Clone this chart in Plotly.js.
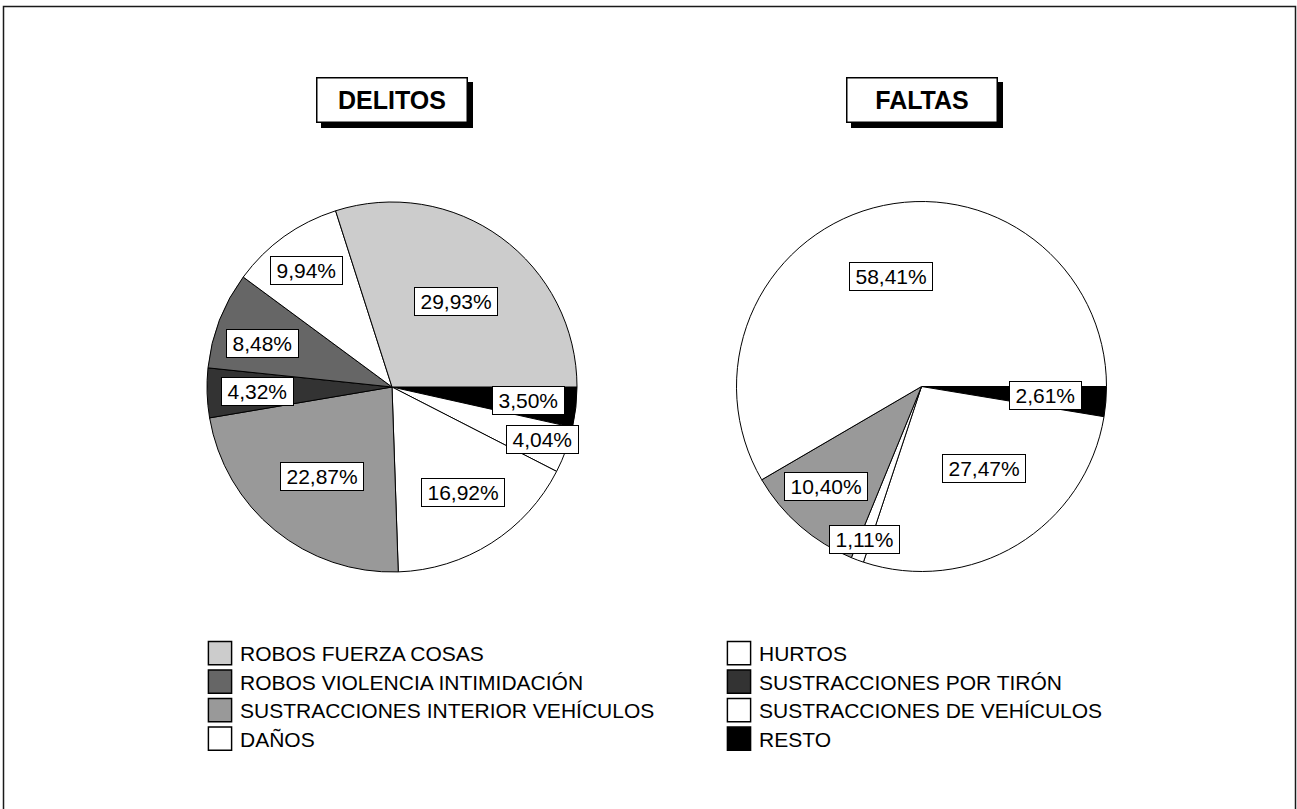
<!DOCTYPE html>
<html><head><meta charset="utf-8">
<script src="https://cdn.plot.ly/plotly-3.0.1.min.js"></script>
<style>html,body{margin:0;padding:0;background:#fff}</style>
</head><body><div id="chart" style="width:1297px;height:809px"></div>
<script>
// ---- data (slices listed clockwise starting at 3 o'clock) ----
const chartTitles = ['DELITOS', 'FALTAS'];
const delitosLabels = ['RESTO', 'SUSTRACCIONES DE VEHÍCULOS', 'HURTOS', 'SUSTRACCIONES INTERIOR VEHÍCULOS',
  'SUSTRACCIONES POR TIRÓN', 'ROBOS VIOLENCIA INTIMIDACIÓN', 'DAÑOS', 'ROBOS FUERZA COSAS'];
const delitosValues = [3.50, 4.04, 16.92, 22.87, 4.32, 8.48, 9.94, 29.93];
const faltasLabels = ['RESTO', 'DAÑOS', 'SUSTRACCIONES DE VEHÍCULOS', 'SUSTRACCIONES INTERIOR VEHÍCULOS', 'HURTOS'];
const faltasValues = [2.61, 27.47, 1.11, 10.40, 58.41];
const legendLeft = ['ROBOS FUERZA COSAS', 'ROBOS VIOLENCIA INTIMIDACIÓN', 'SUSTRACCIONES INTERIOR VEHÍCULOS', 'DAÑOS'];
const legendRight = ['HURTOS', 'SUSTRACCIONES POR TIRÓN', 'SUSTRACCIONES DE VEHÍCULOS', 'RESTO'];

// ---- style ----
const categoryColors = {
  'ROBOS FUERZA COSAS': '#cccccc',
  'ROBOS VIOLENCIA INTIMIDACIÓN': '#666666',
  'SUSTRACCIONES INTERIOR VEHÍCULOS': '#999999',
  'DAÑOS': '#ffffff',
  'HURTOS': '#ffffff',
  'SUSTRACCIONES POR TIRÓN': '#333333',
  'SUSTRACCIONES DE VEHÍCULOS': '#ffffff',
  'RESTO': '#000000'
};
const FONT = 'Liberation Sans, Arial, sans-serif';
const W = 1297, H = 809;
const pieCenters = [[392, 387], [921.5, 386.5]];
const pieR = 185;
const legendRowGap = 28.5;
// label placement: fraction of radius and angle tweak (deg, counterclockwise)
const delitosLabelRadius = [0.744, 0.863, 0.686, 0.615, 0.73, 0.737, 0.78, 0.576];
const delitosLabelTweak = [0.5, 0.5, 1.4, 1.5, 0, 2.4, 0.6, -0.5];
const faltasLabelRadius = [0.67, 0.558, 0.88, 0.746, 0.618];
const faltasLabelTweak = [0.5, 5.9, -0.1, -2.6, 0.3];

const canvas = document.createElement('canvas');
const ctx = canvas.getContext('2d');
function textW(t, size, weight) {
  ctx.font = (weight || '') + ' ' + size + 'px "Liberation Sans"';
  return ctx.measureText(t).width;
}
function fmt(v) { return v.toFixed(2).replace('.', ',') + '%'; }

function domainFor(i) {
  const [cx, cy] = pieCenters[i];
  return { x: [(cx - pieR) / W, (cx + pieR) / W], y: [1 - (cy + pieR) / H, 1 - (cy - pieR) / H] };
}

function pieTrace(i, labels, values) {
  return {
    type: 'pie', labels: labels, values: values, sort: false, direction: 'clockwise', rotation: 90,
    domain: domainFor(i), textinfo: 'none', showlegend: false, hoverinfo: 'label+percent',
    marker: { colors: labels.map(l => categoryColors[l]), line: { color: '#000', width: 1 } }
  };
}

function sliceAnnotations(i, values, radius, tweak) {
  const [cx, cy] = pieCenters[i];
  const total = values.reduce((a, b) => a + b, 0);
  let cum = 0;
  return values.map((v, k) => {
    const mid = -((cum + v / 2) / total) * 360 + tweak[k];
    cum += v;
    const a = mid * Math.PI / 180;
    const px = cx + radius[k] * pieR * Math.cos(a);
    const py = cy - radius[k] * pieR * Math.sin(a);
    const t = fmt(v);
    return {
      xref: 'paper', yref: 'paper', x: px / W, y: 1 - py / H, xanchor: 'center', yanchor: 'middle',
      text: t, showarrow: false, font: { family: FONT, size: 21, color: '#000' },
      bgcolor: '#fff', bordercolor: '#000', borderwidth: 1, borderpad: 2, width: textW(t, 21) + 7
    };
  });
}

function titleAnnotations(i) {
  const [cx] = pieCenters[i];
  const base = {
    xref: 'paper', yref: 'paper', x: cx / W, y: 1 - 100 / H, xanchor: 'center', yanchor: 'middle',
    showarrow: false, width: 142, height: 36, borderpad: 3.5, borderwidth: 1.5
  };
  return [
    Object.assign({}, base, { text: '\u00a0', xshift: 5, yshift: -5, bgcolor: '#000', bordercolor: '#000',
      font: { family: FONT, size: 25, color: '#000' } }),
    Object.assign({}, base, { text: '<b>' + chartTitles[i] + '</b>', bgcolor: '#fff', bordercolor: '#000',
      font: { family: FONT, size: 25, color: '#000' } })
  ];
}

function legendTraces(list, legendId) {
  return list.map(name => ({
    type: 'scatter', mode: 'markers', x: [null], y: [null], name: name, legend: legendId,
    hoverinfo: 'skip',
    marker: { symbol: 'square', size: 16, color: categoryColors[name], line: { color: '#000', width: 1 } }
  }));
}

const data = [
  pieTrace(0, delitosLabels, delitosValues),
  pieTrace(1, faltasLabels, faltasValues),
  ...legendTraces(legendLeft, 'legend'),
  ...legendTraces(legendRight, 'legend2')
];

const legendBase = {
  xanchor: 'left', yanchor: 'top', orientation: 'v', bgcolor: 'rgba(0,0,0,0)', borderwidth: 0,
  font: { family: FONT, size: 21, color: '#000' }, tracegroupgap: 0, itemclick: false, itemdoubleclick: false
};

const layout = {
  width: W, height: H, margin: { l: 0, r: 0, t: 0, b: 0 },
  paper_bgcolor: '#fff', plot_bgcolor: '#fff',
  font: { family: FONT, color: '#000' },
  xaxis: { visible: false, fixedrange: true }, yaxis: { visible: false, fixedrange: true },
  showlegend: true,
  legend: Object.assign({}, legendBase, { x: 200 / W, y: 1 - 633 / H }),
  legend2: Object.assign({}, legendBase, { x: 719 / W, y: 1 - 633 / H }),
  shapes: [{ type: 'rect', xref: 'paper', yref: 'paper', x0: 3.5 / W, x1: 1295.5 / W, y0: -0.02, y1: 1 - 6.5 / H,
    line: { color: '#1a1a1a', width: 1.5 } }],
  annotations: [
    ...titleAnnotations(0), ...titleAnnotations(1),
    ...sliceAnnotations(0, delitosValues, delitosLabelRadius, delitosLabelTweak),
    ...sliceAnnotations(1, faltasValues, faltasLabelRadius, faltasLabelTweak)
  ]
};

Plotly.newPlot('chart', data, layout, { displayModeBar: false, staticPlot: true }).then(gd => {
  gd.querySelectorAll('.legendpoints path.scatterpts').forEach(p => {
    const t = p.getAttribute('transform') || '';
    p.setAttribute('transform', t + ' scale(1.45)');
  });
  // tighten legend row spacing to match the reference
  gd.querySelectorAll('g.legend, g.legend2, g[class^="legend"]').forEach(lg => {
    const items = lg.querySelectorAll('g.traces');
    if (!items.length) return;
    const parse = el => {
      const m = /translate\(\s*([-\d.e]+)[ ,]+([-\d.e]+)\s*\)/.exec(el.getAttribute('transform') || '');
      return m ? [parseFloat(m[1]), parseFloat(m[2])] : [0, 0];
    };
    const [x0, y0] = parse(items[0]);
    items.forEach((it, k) => {
      const [xi] = parse(it);
      it.setAttribute('transform', 'translate(' + xi + ',' + (y0 + k * legendRowGap) + ')');
    });
  });
});
</script></body></html>
